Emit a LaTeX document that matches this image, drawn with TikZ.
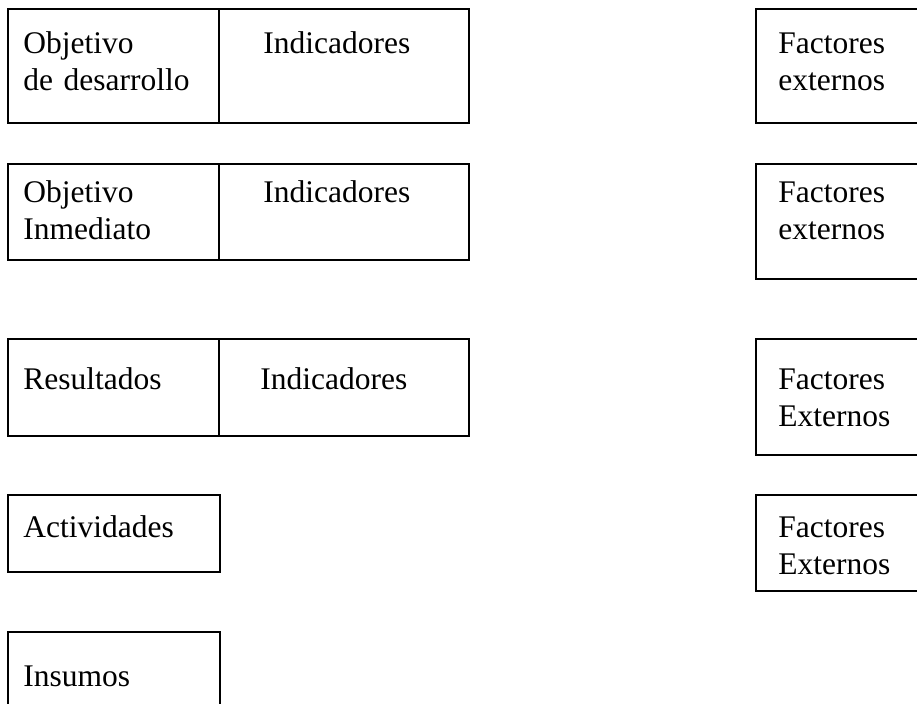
\documentclass[tikz,border=0pt]{standalone}
\usepackage{fontspec}
\setmainfont{Liberation Serif}
\usetikzlibrary{positioning}

\begin{document}
\begin{tikzpicture}[x=0.5pt,y=-0.5pt,
    caja/.style={draw, line width=1pt, inner sep=0pt, anchor=north west},
    texto/.style={inner sep=0pt, anchor=base west, align=left, text width=120pt,
        font=\fontsize{15.75}{18.2}\selectfont}]
    % Paso 1: Fija el marco del dibujo
    \useasboundingbox (0,0) rectangle (917,704);
    \clip (0,0) rectangle (917,704);

    % Paso 2: Cajas de la columna izquierda
    \node[caja, minimum width=105.5pt, minimum height=57pt] (obj1) at (7,8) {};
    \node[caja, minimum width=125pt, minimum height=57pt] (ind1) at (218,8) {};
    \node[caja, minimum width=105.5pt, minimum height=48pt] (obj2) at (7,163) {};
    \node[caja, minimum width=125pt, minimum height=48pt] (ind2) at (218,163) {};
    \node[caja, minimum width=105.5pt, minimum height=48.5pt] (res) at (7,338) {};
    \node[caja, minimum width=125pt, minimum height=48.5pt] (ind3) at (218,338) {};
    \node[caja, minimum width=106pt, minimum height=38.5pt] (act) at (7,494) {};
    \node[caja, minimum width=106pt, minimum height=50pt] (ins) at (7,631) {};

    % Paso 3: Cajas de los factores externos (cortadas a la derecha)
    \node[caja, minimum width=125pt, minimum height=57pt] (fac1) at (755,8) {};
    \node[caja, minimum width=125pt, minimum height=57.5pt] (fac2) at (755,163) {};
    \node[caja, minimum width=125pt, minimum height=58pt] (fac3) at (755,338) {};
    \node[caja, minimum width=125pt, minimum height=48pt] (fac4) at (755,494) {};

    % Paso 4: Textos de cada caja
    \node[texto] (tobj1) at (23,54) {Objetivo\\de desarrollo};
    \node[texto] (tind1) at (263,54) {Indicadores};
    \node[texto] (tobj2) at (23,203) {Objetivo\\Inmediato};
    \node[texto] (tind2) at (263,203) {Indicadores};
    \node[texto] (tres) at (23,390) {Resultados};
    \node[texto] (tind3) at (260,390) {Indicadores};
    \node[texto] (tact) at (23,538) {Actividades};
    \node[texto] (tins) at (23,687) {Insumos};
    \node[texto] (tfac1) at (778,54) {Factores\\externos};
    \node[texto] (tfac2) at (778,203) {Factores\\externos};
    \node[texto] (tfac3) at (778,390) {Factores\\Externos};
    \node[texto] (tfac4) at (778,538) {Factores\\Externos};
\end{tikzpicture}
\end{document}
